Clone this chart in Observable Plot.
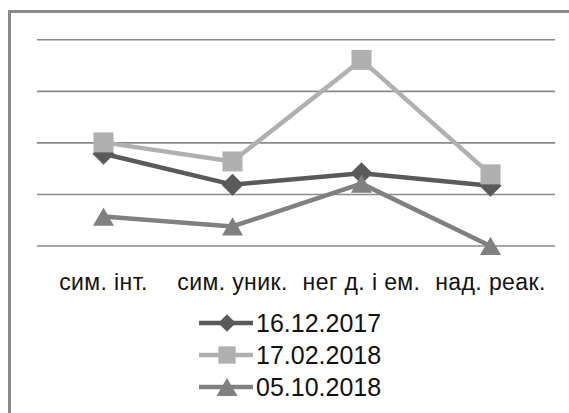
<!DOCTYPE html>
<html>
<head>
<meta charset="utf-8">
<script src="https://cdn.jsdelivr.net/npm/d3@7"></script>
<script src="https://cdn.jsdelivr.net/npm/@observablehq/plot@0.6"></script>
<style>
  html, body { margin: 0; padding: 0; background: #fff; width: 569px; height: 413px; overflow: hidden; }
  #frame { position: absolute; left: 8px; top: 10px; width: 700px; height: 600px; border: 3px solid #8a8a8a; background: #fff; box-sizing: border-box; }
  #chart { position: absolute; left: 0; top: 0; }
  #legend { position: absolute; left: 199px; top: 307px; font-family: "Liberation Sans", Arial, sans-serif; font-size: 25px; color: #111; }
  .item { display: flex; align-items: center; height: 32px; }
  .item svg { display: block; margin-right: 1px; }
</style>
</head>
<body>
<div id="frame"></div>
<div id="chart"></div>
<div id="legend"></div>
<script>
const categories = ["сим. інт.", "сим. уник.", "нег д. і ем.", "над. реак."];
const series = ["16.12.2017", "17.02.2018", "05.10.2018"];
const values_16_12_2017 = [1.79, 1.19, 1.41, 1.17];
const values_17_02_2018 = [2.01, 1.64, 3.61, 1.39];
const values_05_10_2018 = [0.57, 0.38, 1.21, 0.0];
const yTicks = [0, 1, 2, 3, 4];
const colors = ["#5a5a5a", "#b0b0b0", "#808080"];
const symbols = ["diamond2", "square", "triangle"];

const allValues = [values_16_12_2017, values_17_02_2018, values_05_10_2018];
const data = [];
series.forEach((s, si) => categories.forEach((c, ci) => data.push({series: s, category: c, value: allValues[si][ci]})));

const marks = [
  Plot.gridY(yTicks, {stroke: "#8a8a8a", strokeOpacity: 1, strokeWidth: 1.6}),
  Plot.axisX({tickSize: 0, tickPadding: 28, fontSize: 23, fill: "#111"})
];
series.forEach((s, si) => {
  const d = data.filter(r => r.series === s);
  marks.push(Plot.line(d, {x: "category", y: "value", stroke: "series", strokeWidth: 4.5}));
  marks.push(Plot.dot(d, {x: "category", y: "value", symbol: "series", fill: "series", stroke: "none",
    r: si === 0 ? 9.9 : si === 1 ? 11.3 : 7.8, dy: si === 2 ? 3 : 0}));
});

const chart = Plot.plot({
  width: 569,
  height: 300,
  marginLeft: 37,
  marginRight: 14,
  marginTop: 39.3,
  marginBottom: 54.5,
  style: {fontFamily: "'Liberation Sans', Arial, sans-serif", background: "transparent", overflow: "visible", letterSpacing: "0.4px"},
  x: {type: "point", domain: categories, padding: 0.5, label: null},
  y: {domain: [0, 4], axis: null},
  color: {domain: series, range: colors},
  symbol: {domain: series, range: symbols},
  marks
});
document.getElementById("chart").appendChild(chart);

// legend
const legend = d3.select("#legend");
series.forEach((s, si) => {
  const item = legend.append("div").attr("class", "item");
  const svg = item.append("svg").attr("width", 56).attr("height", 28);
  svg.append("line").attr("x1", 0).attr("x2", 54).attr("y1", 14).attr("y2", 14)
    .attr("stroke", colors[si]).attr("stroke-width", 4.5);
  const sym = si === 0 ? d3.symbolDiamond2 : si === 1 ? d3.symbolSquare : d3.symbolTriangle;
  const size = si === 0 ? 200 : si === 1 ? 300 : 190;
  svg.append("path").attr("d", d3.symbol(sym, size)()).attr("transform", `translate(28,${si === 2 ? 17 : 14})`)
    .attr("fill", colors[si]);
  item.append("span").text(s);
});
</script>
</body>
</html>
